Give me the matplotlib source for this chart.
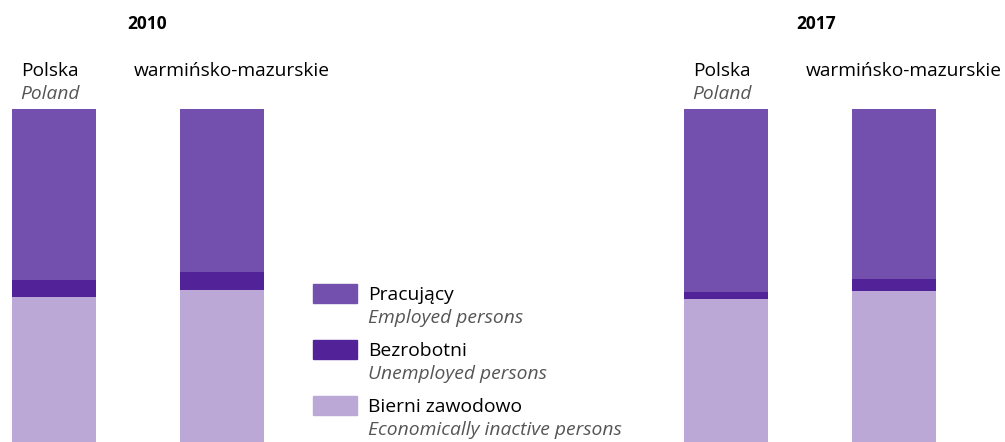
import matplotlib.pyplot as plt
from matplotlib.patches import Rectangle

plt.rcParams['font.family'] = ['Open Sans', 'DejaVu Sans']

# data (percent of population aged 15+)
years = ['2010', '2017']
regions_pl = ['Polska', 'warmińsko-mazurskie']
regions_en = ['Poland', '']
employed = [51.4, 48.9, 54.9, 51.0]
unemployed = [5.0, 5.5, 2.3, 3.6]
inactive = [43.6, 45.6, 42.8, 45.4]
series_pl = ['Pracujący', 'Bezrobotni', 'Bierni zawodowo']
series_en = ['Employed persons', 'Unemployed persons', 'Economically inactive persons']
colors = ['#7350ae', '#522299', '#bba8d6']

W, H = 1005, 442
fig = plt.figure(figsize=(W / 100, H / 100), dpi=100)
ax = fig.add_axes([0, 0, 1, 1])

unit = 168.0
x0 = 54.0
pos = [0, 1, 4, 5]
# stack bottom-up: inactive, unemployed, employed
bottoms = [0] * 4
for vals, c in [(inactive, colors[2]), (unemployed, colors[1]), (employed, colors[0])]:
    ax.bar(pos, vals, width=83.5 / unit, bottom=bottoms, color=c, edgecolor='none')
    bottoms = [b + v for b, v in zip(bottoms, vals)]

ax.set_xlim(-x0 / unit, (W - x0) / unit)
ax.set_ylim(0, 100 + 109 / 3.33)
ax.axis('off')


def px(x, y):
    return x / W, 1 - y / H


# year titles
for yr, x in zip(years, [147, 816]):
    fig.text(*px(x, 29), yr, ha='center', va='baseline', fontsize=12.5, fontweight='bold')

# region labels
for i, p in enumerate(pos):
    xc = x0 + p * unit
    r = i % 2
    if r == 0:
        fig.text(*px(xc - 4, 76), regions_pl[r], ha='center', va='baseline', fontsize=13.8)
        fig.text(*px(xc - 4, 99), regions_en[r], ha='center', va='baseline', fontsize=13.8,
                 style='italic', color='#555555')
    else:
        fig.text(*px(xc + 10, 76), regions_pl[r], ha='center', va='baseline', fontsize=13.8)

# legend
for k in range(3):
    y0 = 284 + k * 56
    fig.patches.append(Rectangle(px(313, y0 + 18.5), 44 / W, 18.5 / H, color=colors[k],
                                 transform=fig.transFigure, figure=fig))
    fig.text(*px(368, y0 + 16), series_pl[k], ha='left', va='baseline', fontsize=13.9)
    fig.text(*px(368, y0 + 39), series_en[k], ha='left', va='baseline', fontsize=13.9,
             style='italic', color='#555555')

fig.savefig('out.png', dpi=100)
